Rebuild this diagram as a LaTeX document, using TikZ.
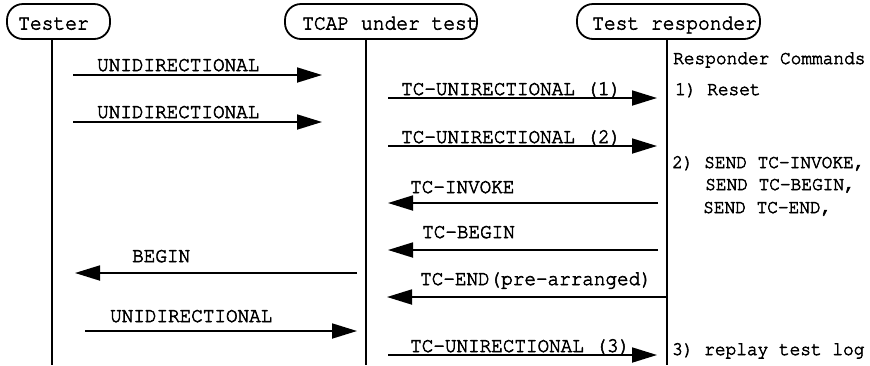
\documentclass[tikz,border=0pt]{standalone}
\usepackage[T1]{fontenc}
\usepackage{graphicx}
\renewcommand{\ttdefault}{pcr}
\usetikzlibrary{arrows.meta}
\newcommand{\heavyon}{\special{pdf:literal direct 2 Tr 0.55 w}}
\newcommand{\heavyoff}{\special{pdf:literal direct 0 Tr}}
\newcommand{\tall}[1]{\scalebox{1}[1.08]{#1}}
\tikzset{
  heavy/.style={execute at begin node=\heavyon, execute at end node=\heavyoff},
  hbox/.style={draw, line width=1.8pt, rounded corners=16pt, minimum height=35pt, inner sep=0pt},
  htext/.style={heavy, font=\ttfamily\fontsize{19.6}{22}\selectfont, anchor=base west, inner sep=0pt},
  lbl/.style={heavy, font=\ttfamily\fontsize{19.3}{22}\selectfont, anchor=base west, inner sep=0pt},
  cmd/.style={heavy, font=\ttfamily\fontsize{17.8}{20}\selectfont, anchor=base west, inner sep=0pt},
  life/.style={line width=1.8pt},
  msg/.style={line width=1.8pt, -{Triangle[length=25pt, width=15pt]}},
}
\begin{document}
\begin{tikzpicture}[x=1pt, y=-1pt]
\useasboundingbox (0,0) rectangle (870,365);
% headers
\node[hbox, minimum width=103pt] (tester) at (58.5,21.5) {};
\node[htext] (testerT) at (18,29.5) {\tall{Tester}};
\node[hbox, minimum width=192pt] (tcap) at (381,21.5) {};
\node[htext] (tcapT) at (302,29.5) {\tall{TCAP under test}};
\node[hbox, minimum width=183pt] (resp) at (668.5,21.5) {};
\node[htext] (respT) at (592,29.5) {\tall{Test responder}};
% lifelines
\coordinate (tbot) at (52,365);
\coordinate (cbot) at (366,365);
\coordinate (rbot) at (667,365);
\draw[life] (tester.south -| tbot) -- (tbot);
\draw[life] (tcap.south -| cbot) -- (cbot);
\draw[life] (resp.south -| rbot) -- (rbot);
% messages
\coordinate (m1s) at (73,75);   \coordinate (m1e) at (322,75);
\coordinate (m2s) at (388,98);  \coordinate (m2e) at (657,98);
\coordinate (m3s) at (73,122);  \coordinate (m3e) at (322,122);
\coordinate (m4s) at (388,146); \coordinate (m4e) at (657,146);
\coordinate (m5s) at (658,203); \coordinate (m5e) at (388,203);
\coordinate (m6s) at (658,250); \coordinate (m6e) at (388,250);
\coordinate (m7s) at (357,273); \coordinate (m7e) at (75,273);
\coordinate (m8s) at (667,297); \coordinate (m8e) at (387,297);
\coordinate (m9s) at (85,331);  \coordinate (m9e) at (357,331);
\coordinate (m10s) at (388,355); \coordinate (m10e) at (657,355);
\draw[msg] (m1s) -- (m1e);
\draw[msg] (m2s) -- (m2e);
\draw[msg] (m3s) -- (m3e);
\draw[msg] (m4s) -- (m4e);
\draw[msg] (m5s) -- (m5e);
\draw[msg] (m6s) -- (m6e);
\draw[msg] (m7s) -- (m7e);
\draw[msg] (m8s) -- (m8e);
\draw[msg] (m9s) -- (m9e);
\draw[msg] (m10s) -- (m10e);
% labels
\node[lbl] (l1) at (97,71) {\tall{UNIDIRECTIONAL}};
\node[lbl] (l2) at (401,95) {\tall{TC-UNIRECTIONAL (1)}};
\node[lbl] (l3) at (97,118) {\tall{UNIDIRECTIONAL}};
\node[lbl] (l4) at (401,143) {\tall{TC-UNIRECTIONAL (2)}};
\node[lbl] (l5) at (410,193) {\tall{TC-INVOKE}};
\node[lbl] (l6) at (422,238) {\tall{TC-BEGIN}};
\node[lbl] (l7) at (132,262) {\tall{BEGIN}};
\node[lbl] (l8) at (420,285) {\tall{TC-END(pre-arranged)}};
\node[lbl] (l9) at (110,322) {\tall{UNIDIRECTIONAL}};
\node[lbl] (l10) at (410,352) {\tall{TC-UNIRECTIONAL (3)}};
% responder commands
\node[cmd] (c0) at (673,64) {\tall{Responder Commands}};
\node[cmd] (c1) at (675,95) {\tall{1) Reset}};
\node[cmd] (c2) at (672,168) {\tall{2) SEND TC-INVOKE,}};
\node[cmd] (c3) at (705,190) {\tall{SEND TC-BEGIN,}};
\node[cmd] (c4) at (703,213) {\tall{SEND TC-END,}};
\node[cmd] (c5) at (672,355) {\tall{3) replay test log}};
\end{tikzpicture}
\end{document}
